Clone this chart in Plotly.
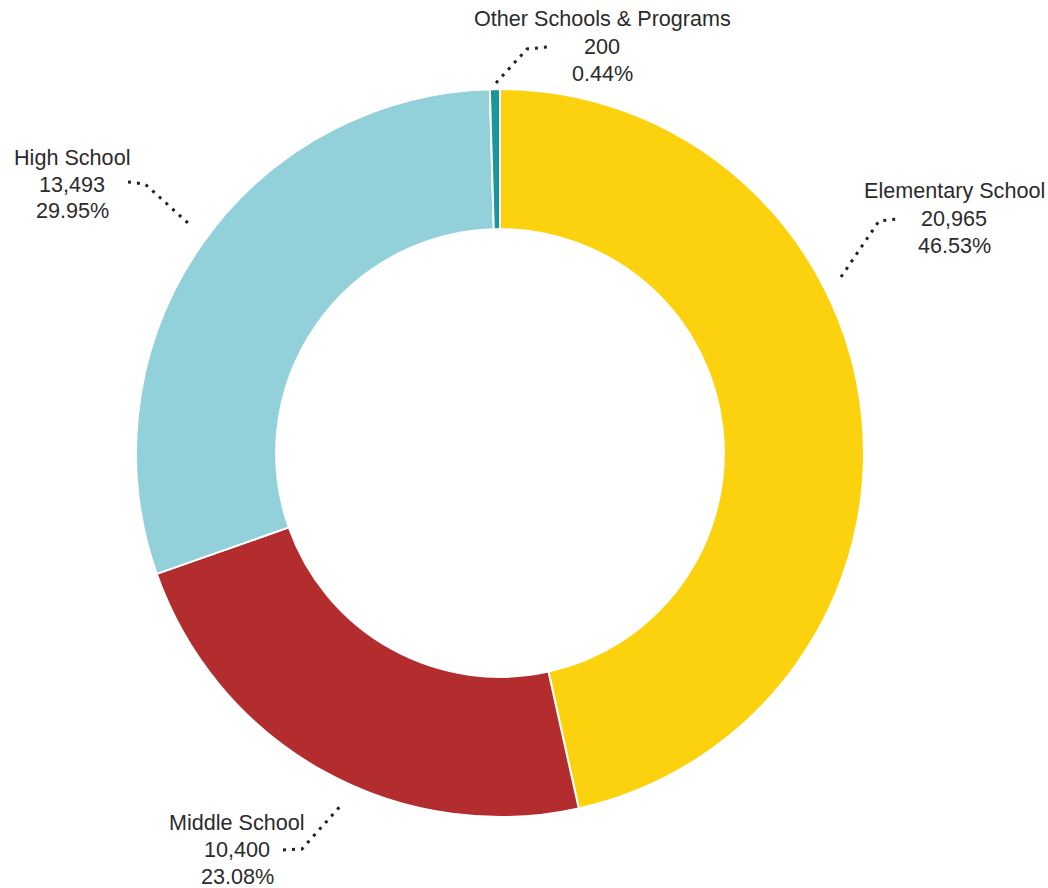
import plotly.graph_objects as go

# ---- data ----
categories = ["Elementary School", "Middle School", "High School", "Other Schools & Programs"]
values = [20965, 10400, 13493, 200]
percent_labels = ["46.53%", "23.08%", "29.95%", "0.44%"]
colors = ["#FCD20F", "#B32D2F", "#92D1D9", "#1B979B"]

W, H = 1048, 888

def px(x, y):
    return x / W, 1 - y / H

fig = go.Figure()
fig.add_trace(go.Pie(
    labels=categories,
    values=values,
    sort=False,
    direction="clockwise",
    rotation=0,
    hole=0.615,
    marker=dict(colors=colors, line=dict(color="white", width=2)),
    textinfo="none",
    hoverinfo="label+value+percent",
    showlegend=False,
    domain=dict(x=[136 / W, 864 / W], y=[71 / H, 799 / H]),
))

# label anchor (centre of the middle text line) and leader-line paths, in pixels
label_pos = {
    "Elementary School": (954, 218),
    "Middle School": (237, 849),
    "High School": (72, 184),
    "Other Schools & Programs": (602, 46),
}
leaders = {
    "Elementary School": [(841, 277), (879, 221), (897, 219)],
    "Middle School": [(283, 850), (302, 849), (343, 803)],
    "High School": [(128, 182), (145, 184), (188, 223)],
    "Other Schools & Programs": [(496, 83), (527, 49), (547, 47)],
}
LINE_GAP = 27

font = dict(family="Liberation Sans, Arial, sans-serif", size=21.6, color="#2b2b2b")

for cat, val, pct in zip(categories, values, percent_labels):
    cx, cy = label_pos[cat]
    for i, line in enumerate([cat, f"{val:,}", pct]):
        x, y = px(cx, cy + (i - 1) * LINE_GAP)
        fig.add_annotation(
            x=x, y=y, xref="paper", yref="paper",
            text=line,
            showarrow=False, align="center",
            xanchor="center", yanchor="middle",
            font=font,
        )
    pts = leaders[cat]
    path = "M " + " L ".join(f"{px(a, b)[0]:.5f},{px(a, b)[1]:.5f}" for a, b in pts)
    fig.add_shape(
        type="path", path=path, xref="paper", yref="paper",
        line=dict(color="#222222", width=3, dash="3px,6px"),
    )

fig.update_layout(
    width=W, height=H,
    margin=dict(l=0, r=0, t=0, b=0),
    paper_bgcolor="white",
    plot_bgcolor="white",
)

fig.write_html(
    "out.html",
    config={"displayModeBar": False},
    post_script="document.body.style.margin='0';document.body.style.overflow='hidden';",
)
